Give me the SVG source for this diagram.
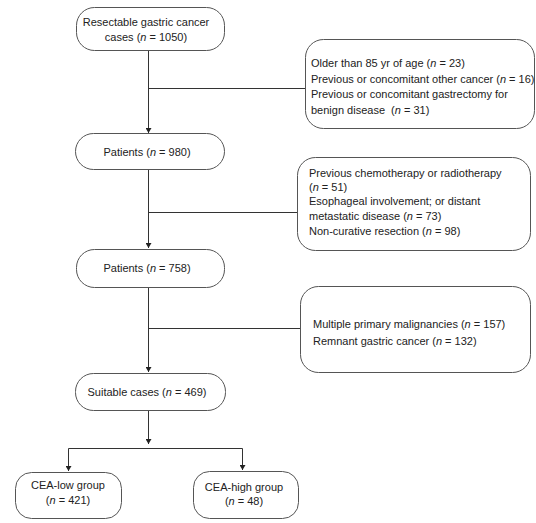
<svg xmlns="http://www.w3.org/2000/svg" width="536" height="523" viewBox="0 0 536 523">
<defs>
<marker id="arr" markerUnits="userSpaceOnUse" markerWidth="6" markerHeight="6" refX="5" refY="3" orient="auto"><path d="M0,0 L5,3 L0,6 z" fill="#222"/></marker>
<style>
.box{fill:#fff;stroke:#555;stroke-width:1}
.ln{fill:none;stroke:#333;stroke-width:1}
text{font-family:"Liberation Sans",Arial,sans-serif;font-size:11px;fill:#222}
.c{text-anchor:middle}
.i{font-style:italic}
</style>
</defs>
<rect width="536" height="523" fill="#fff"/>
<g id="connectors">
<path class="ln" d="M148.5,50 V133" marker-end="url(#arr)"/>
<path class="ln" d="M148.5,88.5 H305"/>
<path class="ln" d="M148.5,169 V248" marker-end="url(#arr)"/>
<path class="ln" d="M148.5,212.5 H297"/>
<path class="ln" d="M148.5,287 V372" marker-end="url(#arr)"/>
<path class="ln" d="M148.5,328.5 H300"/>
<path class="ln" d="M148.5,410 V444" marker-end="url(#arr)"/>
<path class="ln" d="M68.5,470 V448.5 H242.5 V470"/>
<path class="ln" d="M68.5,449 V471" marker-end="url(#arr)"/>
<path class="ln" d="M242.5,449 V470" marker-end="url(#arr)"/>
</g>
<g id="n1">
<rect class="box" x="76.5" y="7.5" width="148" height="43" rx="18"/>
<text class="c" x="146" y="26">Resectable gastric cancer</text>
<text class="c" x="146" y="41">cases (<tspan class="i">n</tspan> = 1050)</text>
</g>
<g id="n2">
<rect class="box" x="75.5" y="133.5" width="149" height="36" rx="18"/>
<text class="c" x="147" y="156">Patients (<tspan class="i">n</tspan> = 980)</text>
</g>
<g id="n3">
<rect class="box" x="76.5" y="249.5" width="148" height="38" rx="18"/>
<text class="c" x="147" y="272">Patients (<tspan class="i">n</tspan> = 758)</text>
</g>
<g id="n4">
<rect class="box" x="75.5" y="373.5" width="150" height="37" rx="18"/>
<text class="c" x="147" y="396">Suitable cases (<tspan class="i">n</tspan> = 469)</text>
</g>
<g id="n5">
<rect class="box" x="15.5" y="472.5" width="106" height="46" rx="16"/>
<text class="c" x="68" y="489">CEA-low group</text>
<text class="c" x="68" y="504">(<tspan class="i">n</tspan> = 421)</text>
</g>
<g id="n6">
<rect class="box" x="193.5" y="471.5" width="105" height="47" rx="16"/>
<text class="c" x="244" y="491">CEA-high group</text>
<text class="c" x="244" y="505">(<tspan class="i">n</tspan> = 48)</text>
</g>
<g id="e1">
<rect class="box" x="305.5" y="39.5" width="229" height="89" rx="18"/>
<text x="311" y="67">Older than 85 yr of age (<tspan class="i">n</tspan> = 23)</text>
<text x="311" y="83">Previous or concomitant other cancer (<tspan class="i">n</tspan> = 16)</text>
<text x="311" y="98">Previous or concomitant gastrectomy for</text>
<text x="311" y="114" xml:space="preserve">benign disease  (<tspan class="i">n</tspan> = 31)</text>
</g>
<g id="e2">
<rect class="box" x="297.5" y="157.5" width="233" height="93" rx="18"/>
<text x="309" y="177">Previous chemotherapy or radiotherapy</text>
<text x="309" y="191">(<tspan class="i">n</tspan> = 51)</text>
<text x="309" y="205">Esophageal involvement; or distant</text>
<text x="309" y="220">metastatic disease (<tspan class="i">n</tspan> = 73)</text>
<text x="309" y="235">Non-curative resection (<tspan class="i">n</tspan> = 98)</text>
</g>
<g id="e3">
<rect class="box" x="300.5" y="286.5" width="230" height="86" rx="18"/>
<text x="313" y="328">Multiple primary malignancies (<tspan class="i">n</tspan> = 157)</text>
<text x="313" y="345">Remnant gastric cancer (<tspan class="i">n</tspan> = 132)</text>
</g>
</svg>
